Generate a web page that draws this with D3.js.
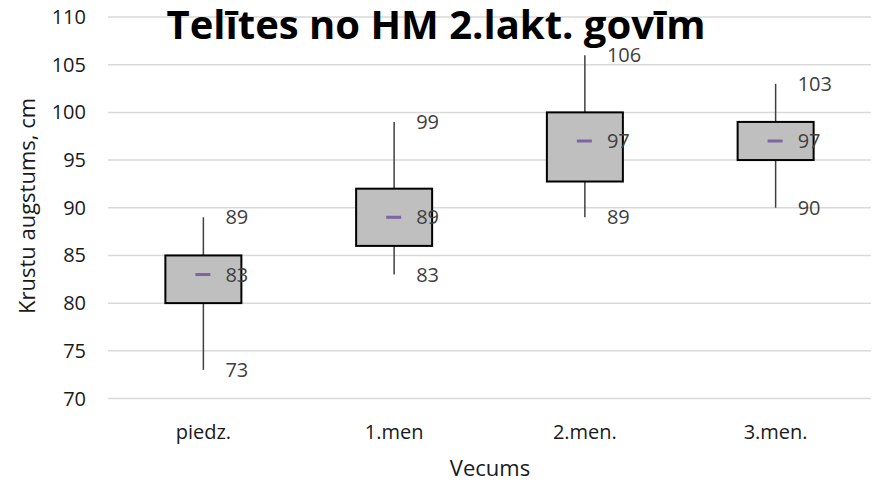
<!DOCTYPE html>
<html>
<head>
<meta charset="utf-8">
<script src="https://cdn.jsdelivr.net/npm/d3@7"></script>
<style>
  body { margin: 0; background: #fff; }
  text { font-family: "Open Sans", sans-serif; }
</style>
</head>
<body>
<div id="chart"></div>
<script>
const categories = ['piedz.', '1.men', '2.men.', '3.men.'];
const minVals = [73, 83, 89, 90];
const q1Vals = [80, 86, 92.75, 95];
const medianVals = [83, 89, 97, 97];
const q3Vals = [85, 92, 100, 99];
const maxVals = [89, 99, 106, 103];
const yTicks = [70, 75, 80, 85, 90, 95, 100, 105, 110];

const width = 877, height = 482;
const margin = { top: 17, right: 6, bottom: 84, left: 108 };

const svg = d3.select('#chart')
  .append('svg')
  .attr('width', width)
  .attr('height', height);

const x = d3.scaleBand()
  .domain(categories)
  .range([margin.left, width - margin.right]);

const y = d3.scaleLinear()
  .domain([70, 110])
  .range([height - margin.bottom + 0.5, margin.top]);

// gridlines
svg.append('g')
  .selectAll('line')
  .data(yTicks)
  .enter()
  .append('line')
  .attr('x1', margin.left)
  .attr('x2', width - margin.right)
  .attr('y1', d => y(d))
  .attr('y2', d => y(d))
  .style('stroke', '#d9d9d9')
  .style('stroke-width', 1.5);

// y tick labels
svg.append('g')
  .selectAll('text')
  .data(yTicks)
  .enter()
  .append('text')
  .attr('x', 86)
  .attr('y', d => y(d))
  .attr('dy', '0.35em')
  .attr('text-anchor', 'end')
  .style('font-size', '20px')
  .style('fill', '#1a1a1a')
  .text(d => d);

const boxW = 76;
const rows = categories.map((c, i) => ({
  cat: c, min: minVals[i], q1: q1Vals[i], med: medianVals[i], q3: q3Vals[i], max: maxVals[i]
}));

const box = svg.append('g')
  .selectAll('.box')
  .data(rows)
  .enter()
  .append('g')
  .attr('class', 'box')
  .attr('transform', d => `translate(${x(d.cat) + x.bandwidth() / 2}, 0)`);

// whiskers
box.append('line')
  .attr('x1', 0).attr('x2', 0)
  .attr('y1', d => y(d.max))
  .attr('y2', d => y(d.q3))
  .style('stroke', '#404040')
  .style('stroke-width', 1.5);
box.append('line')
  .attr('x1', 0).attr('x2', 0)
  .attr('y1', d => y(d.q1))
  .attr('y2', d => y(d.min))
  .style('stroke', '#404040')
  .style('stroke-width', 1.5);

box.append('rect')
  .attr('x', -boxW / 2)
  .attr('width', boxW)
  .attr('y', d => y(d.q3))
  .attr('height', d => y(d.q1) - y(d.q3))
  .style('fill', '#bfbfbf')
  .style('stroke', '#000')
  .style('stroke-width', 2);

// median marker
box.append('rect')
  .attr('x', -8)
  .attr('width', 15)
  .attr('y', d => y(d.med) - 1.5)
  .attr('height', 3)
  .style('fill', '#8064a2');

// data labels
box.each(function (d) {
  const g = d3.select(this);
  [d.max, d.med, d.min].forEach(v => {
    g.append('text')
      .attr('x', 22)
      .attr('y', y(v))
      .attr('dy', '0.35em')
      .style('font-size', '20px')
      .style('fill', '#404040')
      .text(v);
  });
});

// x labels
svg.append('g')
  .selectAll('text')
  .data(categories)
  .enter()
  .append('text')
  .attr('x', d => x(d) + x.bandwidth() / 2)
  .attr('y', 432)
  .attr('dy', '0.35em')
  .attr('text-anchor', 'middle')
  .style('font-size', '20px')
  .style('fill', '#1a1a1a')
  .text(d => d);

svg.append('text')
  .attr('x', 490)
  .attr('y', 468)
  .attr('dy', '0.35em')
  .attr('text-anchor', 'middle')
  .style('font-size', '22px')
  .style('fill', '#1a1a1a')
  .text('Vecums');

svg.append('text')
  .attr('transform', 'translate(27, 206) rotate(-90)')
  .attr('dy', '0.35em')
  .attr('text-anchor', 'middle')
  .style('font-size', '22px')
  .style('fill', '#1a1a1a')
  .text('Krustu augstums, cm');

svg.append('text')
  .attr('x', 436)
  .attr('y', 39)
  .attr('text-anchor', 'middle')
  .style('font-size', '40px')
  .style('font-weight', 'bold')
  .style('fill', '#000')
  .text('Telītes no HM 2.lakt. govīm');
</script>
</body>
</html>
